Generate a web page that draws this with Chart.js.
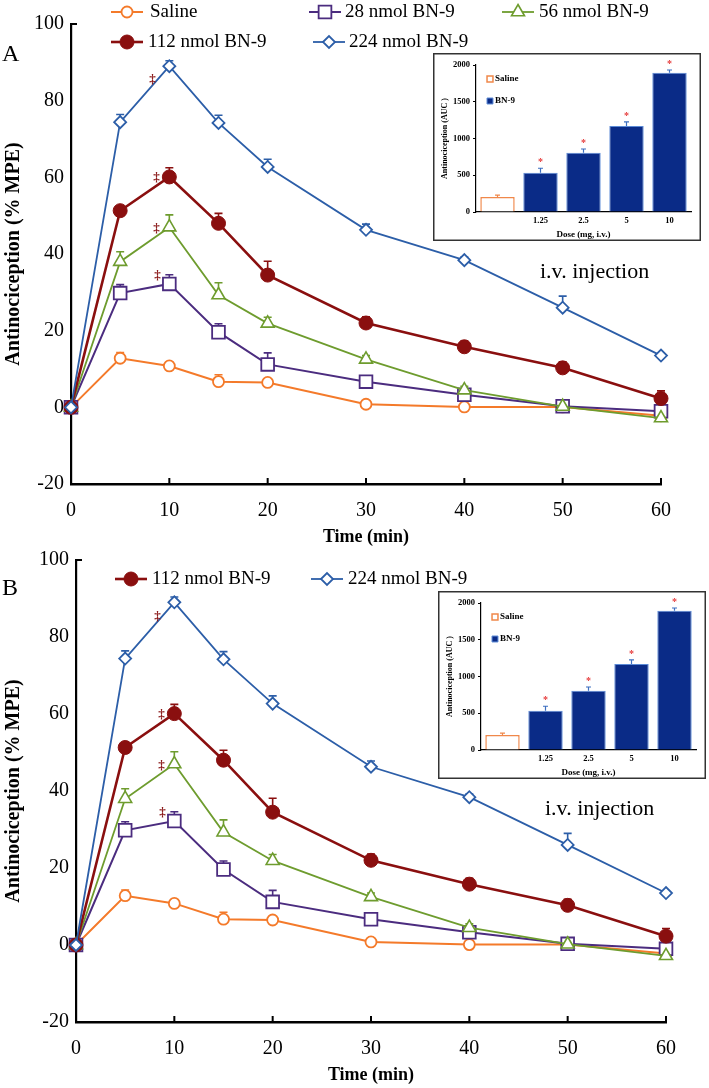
<!DOCTYPE html>
<html>
<head>
<meta charset="utf-8">
<script src="https://cdn.jsdelivr.net/npm/chart.js@4.4.1/dist/chart.umd.min.js"></script>
<style>
  body { margin: 0; background: #fff; }
  #page { position: relative; width: 709px; height: 1088px; overflow: hidden; font-family: 'Liberation Serif', 'Times New Roman', serif; }
  canvas { position: absolute; }
  .lbl { position: absolute; transform: translateY(-50%); white-space: nowrap; color: #000; line-height: 1; }
</style>
</head>
<body>
<div id="page">
  <canvas id="chartA" width="709" height="550" style="left:0;top:0"></canvas>
  <canvas id="chartB" width="709" height="552" style="left:0;top:536px"></canvas>
  <canvas id="insetA" width="268" height="188" style="left:433px;top:53px"></canvas>
  <canvas id="insetB" width="268" height="188" style="left:438px;top:591px"></canvas>
  <div class="lbl" style="left:2px;top:53px;font-size:24px">A</div>
  <div class="lbl" style="left:2px;top:587px;font-size:24px">B</div>
  <div class="lbl" style="left:540px;top:271px;font-size:22px">i.v. injection</div>
  <div class="lbl" style="left:545px;top:808px;font-size:22px">i.v. injection</div>
</div>
<script>
// Time course data (% MPE)
const times = [0, 5, 10, 15, 20, 30, 40, 50, 60];
const saline = [0, 12.8, 10.8, 6.7, 6.5, 0.8, 0.1, 0.1, -2.2];
const bn28 = [0, 29.8, 32.2, 19.6, 11.2, 6.7, 3.3, 0.3, -1.0];
const bn56 = [0, 38.0, 47.0, 29.3, 21.9, 12.5, 4.5, 0.2, -2.8];
const bn112 = [0, 51.3, 60.1, 48.0, 34.5, 22.0, 15.8, 10.3, 2.3];
const bn224 = [0, 74.4, 89.0, 74.2, 62.7, 46.3, 38.4, 26.0, 13.5];

// SEM (upper bars only)
const salineErr = [0, 1.5, 1.0, 1.8, 0.5, 0.5, 0.3, 0.3, 0.3];
const bn28Err = [0, 2.2, 2.4, 2.2, 3.0, 1.5, 1.0, 0.5, 0.5];
const bn56Err = [0, 2.6, 3.2, 3.2, 1.6, 1.0, 1.0, 0.5, 0.5];
const bn112Err = [0, 1.0, 2.4, 2.6, 3.6, 1.6, 1.5, 1.6, 2.0];
const bn224Err = [0, 2.0, 1.4, 2.0, 2.0, 1.5, 0.8, 3.0, 0.5];

// significance marks near the 10 min peak (28, 56, 112, 224)
const sigTimes = [8.8, 8.7, 8.7, 8.3];
const sigValues = [34.4, 46.6, 59.9, 85.4];

// tick labels
const yTicksMain = [-20, 0, 20, 40, 60, 80, 100];
const xTicksMain = [0, 10, 20, 30, 40, 50, 60];

// inset: AUC by dose
const doseLabels = ['', '1.25', '2.5', '5', '10'];
const aucSaline = [205, null, null, null, null];
const aucBN9 = [null, 535, 807, 1170, 1895];
const aucErr = [25, 60, 50, 55, 37];
const aucTicks = [0, 500, 1000, 1500, 2000];

const SERIF = "'Liberation Serif', 'Times New Roman', serif";
Chart.defaults.font.family = SERIF;
Chart.defaults.color = '#000';

function toPoints(vals) {
    return times.map((t, i) => ({ x: t, y: vals[i] }));
}

// error bars, drawn under the markers
const errorBars = {
    id: 'errorBars',
    beforeDatasetsDraw(chart, args, opts) {
        const ctx = chart.ctx;
        const xs = chart.scales.x, ys = chart.scales.y;
        chart.data.datasets.forEach((ds) => {
            if (!ds.errors) return;
            ctx.save();
            ctx.strokeStyle = ds.errorColor || ds.borderColor;
            ctx.lineWidth = opts.width || 1.5;
            ds.data.forEach((p, i) => {
                const isObj = typeof p === 'object' && p !== null;
                const v = isObj ? p.y : p;
                const e = ds.errors[i];
                if (v === null || !e) return;
                const x = xs.getPixelForValue(isObj ? p.x : i);
                const y0 = ys.getPixelForValue(v);
                const y1 = ys.getPixelForValue(v + e);
                const cap = opts.cap || 4;
                ctx.beginPath();
                ctx.moveTo(x, y0);
                ctx.lineTo(x, y1);
                ctx.moveTo(x - cap, y1);
                ctx.lineTo(x + cap, y1);
                ctx.stroke();
            });
            ctx.restore();
        });
    }
};

// legend entries placed where the original has them
const placedLegend = {
    id: 'placedLegend',
    afterDraw(chart, args, opts) {
        const ctx = chart.ctx;
        opts.items.forEach(it => {
            const ds = chart.data.datasets[it.index];
            ctx.save();
            const len = it.line || 0;
            if (len) {
                ctx.strokeStyle = ds.borderColor;
                ctx.lineWidth = ds.borderWidth;
                ctx.beginPath();
                ctx.moveTo(it.x, it.y);
                ctx.lineTo(it.x + len, it.y);
                ctx.stroke();
            }
            const cx = it.x + len / 2;
            ctx.fillStyle = ds.pointBackgroundColor || ds.backgroundColor;
            ctx.strokeStyle = ds.pointBorderColor || ds.borderColor;
            const bw = ds.pointBorderWidth || ds.borderWidth;
            ctx.lineWidth = bw;
            Chart.helpers.drawPoint(ctx, {
                pointStyle: ds.pointStyle || 'rect',
                radius: it.radius || ds.pointRadius,
                rotation: 0,
                borderWidth: bw
            }, cx, it.y);
            ctx.fillStyle = '#000';
            ctx.font = opts.font;
            ctx.textBaseline = 'middle';
            ctx.textAlign = 'left';
            ctx.fillText(ds.label, it.textX, it.y);
            ctx.restore();
        });
    }
};

// inward tick marks and significance symbols
const mainDecor = {
    id: 'mainDecor',
    afterDraw(chart) {
        const ctx = chart.ctx;
        const xs = chart.scales.x, ys = chart.scales.y;
        const area = chart.chartArea;
        ctx.save();
        ctx.strokeStyle = '#000';
        ctx.lineWidth = 2;
        ctx.beginPath();
        xs.ticks.forEach(t => {
            if (t.value === 0) return;
            const x = xs.getPixelForValue(t.value);
            ctx.moveTo(x, area.bottom);
            ctx.lineTo(x, area.bottom - 6);
        });
        ctx.moveTo(area.left, area.top);
        ctx.lineTo(area.left + 6, area.top);
        ctx.stroke();
        ctx.fillStyle = '#8b1a1a';
        ctx.font = 'bold 13px ' + SERIF;
        ctx.textAlign = 'center';
        ctx.textBaseline = 'middle';
        sigTimes.forEach((t, i) => {
            ctx.fillText('\u2021', xs.getPixelForValue(t), ys.getPixelForValue(sigValues[i]));
        });
        ctx.restore();
    }
};

// higher order is drawn first, so the 224 nmol series sits on top
function mainDatasets() {
    return [
        { label: 'Saline', data: toPoints(saline), errors: salineErr, borderColor: '#f47a2a', borderWidth: 2, order: 5,
          pointStyle: 'circle', pointRadius: 5.5, pointBorderWidth: 1.8, pointBackgroundColor: '#fff', clip: false },
        { label: '28 nmol BN-9', data: toPoints(bn28), errors: bn28Err, borderColor: '#4b2c7f', borderWidth: 2, order: 4,
          pointStyle: 'rect', pointRadius: 9, pointBorderWidth: 1.8, pointBackgroundColor: '#fff', clip: false },
        { label: '56 nmol BN-9', data: toPoints(bn56), errors: bn56Err, borderColor: '#6e9c2e', borderWidth: 1.8, order: 3,
          pointStyle: 'triangle', pointRadius: 7.5, pointBorderWidth: 1.6, pointBackgroundColor: '#fff', clip: false },
        { label: '112 nmol BN-9', data: toPoints(bn112), errors: bn112Err, borderColor: '#8a0f0f', borderWidth: 2.6, order: 2,
          pointStyle: 'circle', pointRadius: 7, pointBorderWidth: 1, pointBackgroundColor: '#8a0f0f', clip: false },
        { label: '224 nmol BN-9', data: toPoints(bn224), errors: bn224Err, borderColor: '#2c5ea8', borderWidth: 1.8, order: 1,
          pointStyle: 'rectRot', pointRadius: 6, pointBorderWidth: 1.8, pointBackgroundColor: '#fff', clip: false }
    ];
}

function makeMain(id, yAxisWidth, rightPad, legendItems) {
    new Chart(document.getElementById(id), {
        type: 'line',
        data: { datasets: mainDatasets() },
        options: {
            responsive: false,
            animation: false,
            layout: { padding: { top: 24, right: rightPad, left: 0, bottom: 0 } },
            plugins: {
                legend: { display: false },
                tooltip: { enabled: false },
                errorBars: { width: 1.6, cap: 4 },
                placedLegend: { items: legendItems, font: '19px ' + SERIF }
            },
            scales: {
                x: {
                    type: 'linear', min: 0, max: 60,
                    afterBuildTicks: s => { s.ticks = xTicksMain.map(v => ({ value: v })); },
                    afterFit: s => { s.height = 66; },
                    grid: { display: false, drawTicks: false },
                    border: { display: true, color: '#000', width: 2.5 },
                    ticks: { font: { size: 20 }, padding: 15, color: '#000' },
                    title: { display: true, text: 'Time (min)', font: { size: 18, weight: 'bold' }, padding: { top: 0, bottom: 2 } }
                },
                y: {
                    min: -20, max: 100,
                    afterBuildTicks: s => { s.ticks = yTicksMain.map(v => ({ value: v })); },
                    afterFit: s => { s.width = yAxisWidth; },
                    grid: { display: false, drawTicks: false },
                    border: { display: true, color: '#000', width: 2.2 },
                    ticks: { font: { size: 20 }, padding: 7, color: '#000' },
                    title: { display: true, text: 'Antinociception (% MPE)', font: { size: 20, weight: 'bold' }, padding: { top: 2, bottom: 0 } }
                }
            }
        },
        plugins: [errorBars, placedLegend, mainDecor]
    });
}

// white box, frame and significance stars for the inset
const insetDecor = {
    id: 'insetDecor',
    beforeDraw(chart) {
        const ctx = chart.ctx;
        ctx.save();
        ctx.fillStyle = '#fff';
        ctx.fillRect(0, 0, chart.width, chart.height);
        ctx.restore();
    },
    afterDraw(chart) {
        const ctx = chart.ctx;
        const xs = chart.scales.x, ys = chart.scales.y;
        ctx.save();
        ctx.strokeStyle = '#333';
        ctx.lineWidth = 1.5;
        ctx.strokeRect(0.75, 0.75, chart.width - 1.5, chart.height - 1.5);
        ctx.fillStyle = '#e63a3a';
        ctx.font = 'bold 10px ' + SERIF;
        ctx.textAlign = 'center';
        ctx.textBaseline = 'middle';
        aucBN9.forEach((v, i) => {
            if (v === null) return;
            ctx.fillText('*', xs.getPixelForValue(i), ys.getPixelForValue(v + aucErr[i]) - 6);
        });
        ctx.restore();
    }
};

function makeInset(id) {
    new Chart(document.getElementById(id), {
        type: 'bar',
        data: {
            labels: doseLabels,
            datasets: [
                { label: 'Saline', data: aucSaline, errors: aucErr, backgroundColor: '#fff', borderColor: '#f0884a',
                  borderWidth: 1.5, errorColor: '#f0884a', grouped: false, barPercentage: 0.8, categoryPercentage: 1 },
                { label: 'BN-9', data: aucBN9, errors: aucErr, backgroundColor: '#0a2b87', borderColor: '#5b8ad6',
                  borderWidth: 1, errorColor: '#3d6fc0', grouped: false, barPercentage: 0.8, categoryPercentage: 1 }
            ]
        },
        options: {
            responsive: false,
            animation: false,
            layout: { padding: { top: 12, right: 10, left: 0, bottom: 0 } },
            plugins: {
                legend: { display: false },
                tooltip: { enabled: false },
                errorBars: { width: 1.2, cap: 2.5 },
                placedLegend: {
                    font: 'bold 9px ' + SERIF,
                    items: [
                        { index: 0, x: 57, y: 26, textX: 62, radius: 4.2 },
                        { index: 1, x: 57, y: 48, textX: 62, radius: 4.2 }
                    ]
                }
            },
            scales: {
                x: {
                    afterFit: s => { s.height = 29; },
                    grid: { display: false, drawTicks: false },
                    border: { display: true, color: '#000', width: 1.2 },
                    ticks: { font: { size: 8.5, weight: 'bold' }, padding: 4, color: '#000' },
                    title: { display: true, text: 'Dose (mg, i.v.)', font: { size: 9, weight: 'bold' }, padding: { top: 0, bottom: 1 } }
                },
                y: {
                    min: 0, max: 2000,
                    afterBuildTicks: s => { s.ticks = aucTicks.map(v => ({ value: v })); },
                    ticks: { font: { size: 8.5, weight: 'bold' }, padding: 3, color: '#000', callback: v => String(v) },
                    afterFit: s => { s.width = 43; },
                    grid: { display: true, drawOnChartArea: false, drawTicks: true, tickLength: 3, color: '#000' },
                    border: { display: true, color: '#000', width: 1.2 },
                    title: { display: true, text: 'Antinociception (AUC )', font: { size: 8, weight: 'bold' }, padding: { top: 7, bottom: 0 } }
                }
            }
        },
        plugins: [insetDecor, errorBars, placedLegend]
    });
}

makeMain('chartA', 71, 48, [
    { index: 0, x: 111, y: 12, line: 32, textX: 150 },
    { index: 1, x: 309, y: 12, line: 32, textX: 345 },
    { index: 2, x: 502, y: 12, line: 32, textX: 539 },
    { index: 3, x: 111, y: 42, line: 32, textX: 148 },
    { index: 4, x: 313, y: 42, line: 32, textX: 349 }
]);
makeMain('chartB', 76, 43, [
    { index: 3, x: 115, y: 43, line: 32, textX: 152 },
    { index: 4, x: 311, y: 43, line: 32, textX: 348 }
]);
makeInset('insetA');
makeInset('insetB');
</script>
</body>
</html>
